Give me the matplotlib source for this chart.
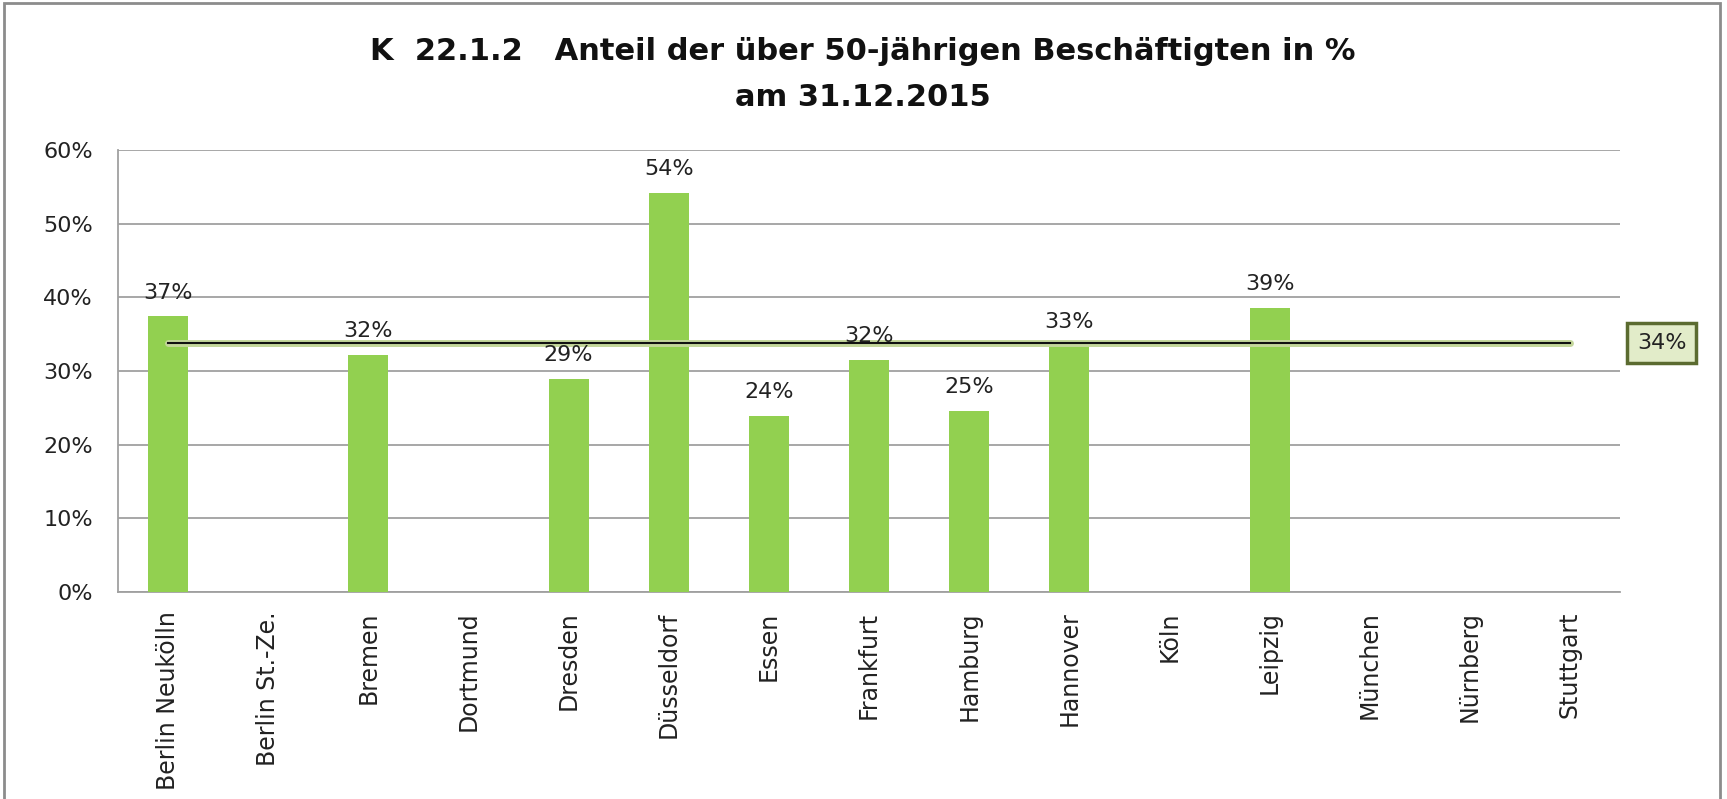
import matplotlib
matplotlib.use("Agg")
import matplotlib.pyplot as plt
import numpy as np
from matplotlib.patches import Rectangle

categories = ["Berlin Neukölln", "Berlin St.-Ze.", "Bremen", "Dortmund", "Dresden",
              "Düsseldorf", "Essen", "Frankfurt", "Hamburg", "Hannover", "Köln",
              "Leipzig", "München", "Nürnberg", "Stuttgart"]
values = [37.4, np.nan, 32.2, np.nan, 28.9, 54.2, 23.9, 31.5, 24.6, 33.4, np.nan,
          38.6, np.nan, np.nan, np.nan]
average = 33.8
title_lines = ["K  22.1.2   Anteil der über 50-jährigen Beschäftigten in %", "am 31.12.2015"]
yticks = [0, 10, 20, 30, 40, 50, 60]

plt.rcParams['font.family'] = ['DejaVu Sans']
W, H = 1727, 799
fig = plt.figure(figsize=(W / 100, H / 100), dpi=100)
ax = fig.add_axes([118 / W, 1 - 592 / H, (1620 - 118) / W, (592 - 150) / H])

x = np.arange(len(categories))
ax.bar(x, values, width=0.4, color="#92d050", zorder=3)

for xi, v in zip(x, values):
    if not np.isnan(v):
        ax.annotate(f"{v:.0f}%", (xi, v), xytext=(0, 10), textcoords="offset points",
                    ha="center", va="bottom", fontsize=16, color="#222222", zorder=5)

# average line with glow
ax.plot([x[0], x[-1]], [average, average], color="#c4d79b", lw=5, solid_capstyle="round", zorder=4)
ax.plot([x[0], x[-1]], [average, average], color="#111111", lw=1.5, zorder=4.5)

ax.annotate(f"{average:.0f}%", xy=(1.0, average), xycoords=("axes fraction", "data"),
            xytext=(30, 0), textcoords="offset points", ha="center", va="center",
            fontsize=16, color="#222222",
            bbox=dict(boxstyle="square,pad=0.45", facecolor="#e2ecc9", edgecolor="#5b6b30", lw=2.5))

ax.set_xlim(-0.5, len(categories) - 0.5)
ax.set_ylim(0, 60)
ax.set_yticks(yticks)
ax.set_yticklabels([f"{t}%" for t in yticks])
ax.set_xticks(x)
ax.set_xticklabels(categories, rotation=90, va="top", ha="center")
ax.tick_params(axis="both", length=0, labelsize=16, colors="#222222")
ax.tick_params(axis="x", labelsize=17)
ax.tick_params(axis="y", pad=18)
ax.tick_params(axis="x", pad=14)
ax.yaxis.grid(True, color="#a0a0a0", lw=1.3, zorder=0)
ax.set_axisbelow(True)
for s in ["top", "right"]:
    ax.spines[s].set_visible(False)
for s in ["left", "bottom"]:
    ax.spines[s].set_color("#a0a0a0")
    ax.spines[s].set_linewidth(1.3)

fig.text(863 / W, 1 - 51 / H, title_lines[0], ha="center", va="center",
         fontsize=22, fontweight="bold", color="#111111")
fig.text(863 / W, 1 - 97 / H, title_lines[1], ha="center", va="center",
         fontsize=22, fontweight="bold", color="#111111")

fig.patches.append(Rectangle((4 / W, -0.01), (1720 - 4) / W, (H - 3) / H + 0.01,
                             transform=fig.transFigure, fill=False, edgecolor="#8c8c8c", lw=2))

fig.savefig("out.png", dpi=100)
